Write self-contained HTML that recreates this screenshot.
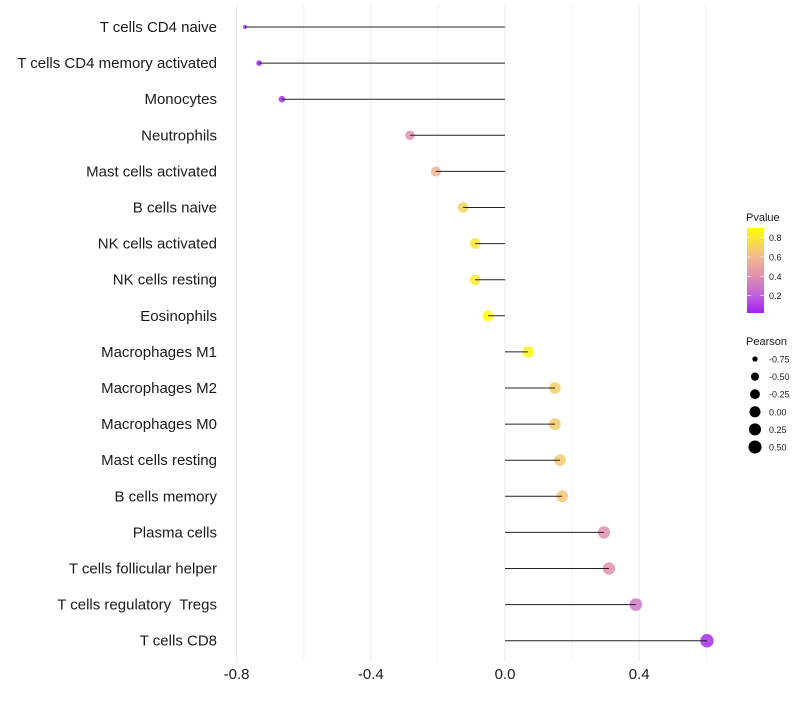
<!DOCTYPE html>
<html><head><meta charset="utf-8"><style>
body{margin:0;background:#fff;width:800px;height:700px;overflow:hidden;font-family:"Liberation Sans",sans-serif}
text{white-space:pre}
</style></head><body>
<svg id="chart" width="800" height="700" xmlns="http://www.w3.org/2000/svg"></svg>
<script>
const categories=["T cells CD4 naive","T cells CD4 memory activated","Monocytes","Neutrophils","Mast cells activated","B cells naive","NK cells activated","NK cells resting","Eosinophils","Macrophages M1","Macrophages M2","Macrophages M0","Mast cells resting","B cells memory","Plasma cells","T cells follicular helper","T cells regulatory  Tregs","T cells CD8"];
const pearson=[-0.775,-0.733,-0.665,-0.283,-0.206,-0.125,-0.089,-0.089,-0.051,0.069,0.149,0.149,0.164,0.170,0.295,0.310,0.390,0.602];
const pvalue=[0.03,0.04,0.06,0.42,0.58,0.72,0.80,0.80,0.90,0.87,0.68,0.68,0.67,0.66,0.40,0.40,0.30,0.05];
const xTicks=[-0.8,-0.4,0.0,0.4];
const xTickLabels=["-0.8","-0.4","0.0","0.4"];
const xMinor=[-0.6,-0.2,0.2,0.6];
const pTicks=[0.2,0.4,0.6,0.8];
const sizeLegend=[-0.75,-0.5,-0.25,0,0.25,0.5];

const svg=document.getElementById('chart');
const NS="http://www.w3.org/2000/svg";
function mk(tag,attrs,parent){const e=document.createElementNS(NS,tag);for(const k in attrs)e.setAttribute(k,attrs[k]);(parent||svg).appendChild(e);return e;}
const x=v=>505+v*335.5;
const y=i=>27+i*36.1;
const rad=v=>2+4.7*Math.sqrt(Math.max(0,(v+0.775)/1.377));
const cStops=[[0.02,[160,32,240]],[0.2,[192,96,224]],[0.4,[224,144,176]],[0.6,[242,184,144]],[0.9,[255,255,0]]];
function col(p){p=Math.max(0.02,Math.min(0.9,p));
 for(let k=0;k<cStops.length-1;k++){const a=cStops[k],b=cStops[k+1];
  if(p<=b[0]){const u=(p-a[0])/(b[0]-a[0]);const c=a[1].map((v,j)=>Math.round(v+(b[1][j]-v)*u));return `rgb(${c[0]},${c[1]},${c[2]})`;}}
 return 'rgb(255,255,0)';}

xMinor.forEach(v=>{const g=mk('line',{x1:x(v),x2:x(v),y1:5,y2:662,stroke:'#f2f2f2','stroke-width':1});
});
xTicks.forEach((v,i)=>{const g=mk('line',{x1:x(v),x2:x(v),y1:5,y2:662,stroke:'#ebebeb','stroke-width':1});

const t=mk('text',{x:x(v),y:679,'text-anchor':'middle','font-size':15,fill:'#1a1a1a'});t.textContent=xTickLabels[i];
});

categories.forEach((c,i)=>{
 const t=mk('text',{x:217,y:y(i)+5,'text-anchor':'end','font-size':15,fill:'#1a1a1a'});t.textContent=c;
 
 const p=mk('circle',{cx:x(pearson[i]),cy:y(i),r:rad(pearson[i]),fill:col(pvalue[i]),'fill-opacity':0.85});
 
 const l=mk('line',{x1:x(0),x2:x(pearson[i]),y1:y(i),y2:y(i),stroke:'#222','stroke-width':1});
 
});

const lt=mk('text',{x:746,y:221,'font-size':11,fill:'#1a1a1a'});lt.textContent='Pvalue';

const defs=mk('defs',{});const gr=mk('linearGradient',{id:'pg',x1:0,y1:1,x2:0,y2:0},defs);
for(let k=0;k<=20;k++){mk('stop',{offset:k/20,'stop-color':col(0.02+0.88*k/20)},gr);}
const bar=mk('rect',{x:747,y:228,width:17,height:85,fill:'url(#pg)'});

pTicks.forEach(p=>{const yy=313-(p-0.02)/0.88*85;
 mk('line',{x1:747,x2:751,y1:yy,y2:yy,stroke:'#fff','stroke-width':0.6});mk('line',{x1:760,x2:764,y1:yy,y2:yy,stroke:'#fff','stroke-width':0.6});
 const t=mk('text',{x:769,y:yy+3.5,'font-size':9,fill:'#1a1a1a'});t.textContent=p.toFixed(1);
 });

const st=mk('text',{x:746,y:345,'font-size':11,fill:'#1a1a1a'});st.textContent='Pearson';

sizeLegend.forEach((v,i)=>{const yy=359+i*17.6;
 const c=mk('circle',{cx:755,cy:yy,r:rad(v),fill:'#000'});
 
 const t=mk('text',{x:769,y:yy+3.5,'font-size':9,fill:'#1a1a1a'});t.textContent=v.toFixed(2);
 });
</script>
</body></html>
